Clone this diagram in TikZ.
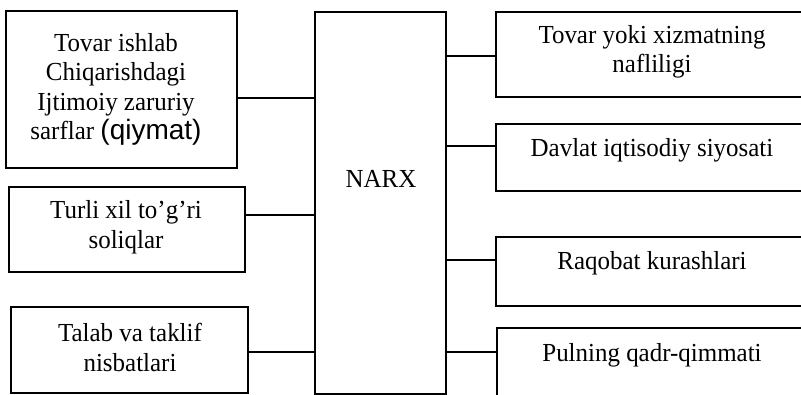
\documentclass[tikz,border=0pt]{standalone}
\usepackage{fontspec}
\setmainfont[FakeStretch=0.96]{Liberation Serif}
\newfontfamily\qsans{Liberation Sans}
\begin{document}
\begin{tikzpicture}[x=1pt,y=-1pt,
  box/.style={draw, line width=2pt, rectangle, inner sep=0pt, outer sep=0pt},
  lbl/.style={align=center, inner sep=0pt, font=\fontsize{26}{29.5}\selectfont},
  conn/.style={line width=2pt}]
\useasboundingbox (0,0) rectangle (801,395);
\clip (0,0) rectangle (801,395);
% left boxes
\node[box, minimum width=231, minimum height=157] (L1) at (121.5,89.5) {};
\node[box, minimum width=236, minimum height=85] (L2) at (127,229.5) {};
\node[box, minimum width=237, minimum height=86] (L3) at (129.5,350) {};
% centre
\node[box, minimum width=131, minimum height=382] (N) at (380.5,203) {};
% right boxes
\node[box, minimum width=312, minimum height=85] (R1) at (652,54.5) {};
\node[box, minimum width=312, minimum height=67] (R2) at (652,157.5) {};
\node[box, minimum width=312, minimum height=69] (R3) at (652,271.5) {};
\node[box, minimum width=311, minimum height=92] (R4) at (652.5,374) {};
% labels
\node[lbl] (tL1) at (116,89.5) {Tovar ishlab\\Chiqarishdagi\\Ijtimoiy zaruriy\\sarflar {\qsans\fontsize{28}{29.5}\selectfont(qiymat)}};
\node[lbl, font=\fontsize{26}{30}\selectfont] (tL2) at (126,227) {Turli xil to’g’ri\\soliqlar};
\node[lbl] (tL3) at (130,347.5) {Talab va taklif\\nisbatlari};
\node[lbl, anchor=base] (tN) at (381,188) {NARX};
\node[lbl] (tR1) at (652,52) {Tovar yoki xizmatning\\nafliligi};
\node[lbl, anchor=base] (tR2) at (652,157) {Davlat iqtisodiy siyosati};
\node[lbl, anchor=base] (tR3) at (652,270) {Raqobat kurashlari};
\node[lbl, anchor=base] (tR4) at (652,362) {Pulning qadr-qimmati};
% connectors
\draw[conn] (L1.east |- 0,98) -- (N.west |- 0,98);
\draw[conn] (L2.east |- 0,215) -- (N.west |- 0,215);
\draw[conn] (L3.east |- 0,352) -- (N.west |- 0,352);
\draw[conn] (N.east |- 0,56) -- (R1.west |- 0,56);
\draw[conn] (N.east |- 0,146) -- (R2.west |- 0,146);
\draw[conn] (N.east |- 0,260) -- (R3.west |- 0,260);
\draw[conn] (N.east |- 0,352) -- (R4.west |- 0,352);
\end{tikzpicture}
\end{document}
